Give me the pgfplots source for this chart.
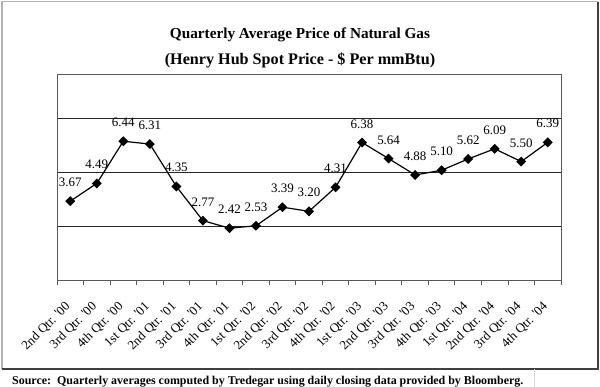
\documentclass[border=0pt]{standalone}
\usepackage{pgfplots}
\pgfplotsset{compat=1.18}
\usepackage{fontspec}
\setmainfont{Liberation Serif}[Ligatures=TeXOff]
\begin{document}
\begin{tikzpicture}
\useasboundingbox (0bp,0bp) rectangle (600bp,-387bp);
\fill[white] (0bp,0bp) rectangle (600bp,-387bp);
\draw[gray!60, line width=1.2bp] (2bp,-369bp) -- (2bp,-1.5bp) -- (598bp,-1.5bp);
\draw[black!75, line width=2bp] (598bp,-1.5bp) -- (598bp,-369bp) -- (2bp,-369bp);
\draw[gray!30, line width=0.8bp] (534bp,-369bp) -- (534bp,-387bp);
\node[font=\bfseries\fontsize{15.3}{18}\selectfont, anchor=base, inner sep=0pt] at (300bp,-38bp) {Quarterly Average Price of Natural Gas};
\node[font=\bfseries\fontsize{16.2}{19}\selectfont, anchor=base, inner sep=0pt] at (300bp,-64.5bp) {(Henry Hub Spot Price - \$ Per mmBtu)};
\node[font=\bfseries\fontsize{12}{14}\selectfont, anchor=base west, inner sep=0pt] at (12bp,-384bp) {Source:\ \ Quarterly averages computed by Tredegar using daily closing data provided by Bloomberg.};
\begin{axis}[
  at={(57bp,-280.5bp)}, anchor=south west,
  scale only axis, width=504bp, height=206.5bp,
  xmin=-0.5, xmax=18.5, ymin=0, ymax=9.55,
  clip=false,
  xtick pos=lower, ytick pos=left,
  xtick={0,...,18},
  xticklabels={2nd Qtr. '00,3rd Qtr. '00,4th Qtr. '00,1st Qtr. '01,2nd Qtr. '01,3rd Qtr. '01,4th Qtr. '01,1st Qtr. '02,2nd Qtr. '02,3rd Qtr. '02,4th Qtr. '02,1st Qtr. '03,2nd Qtr. '03,3rd Qtr. '03,4th Qtr. '03,1st Qtr. '04,2nd Qtr. '04,3rd Qtr. '04,4th Qtr. '04},
  minor xtick={-0.5,0.5,...,18.5},
  ytick={2.5,5,7.5}, yticklabels={},
  ymajorgrids, major grid style={black!85, line width=0.8bp},
  major tick length=0pt, minor tick length=4bp, tick align=outside,
  minor tick style={gray!70!black, line width=0.8bp},
  axis line style={gray!70!black, line width=1bp},
  xticklabel style={font=\fontsize{13}{15}\selectfont, xshift=-2bp, yshift=-24bp, rotate=45, anchor=east, inner sep=0pt},
  /pgf/number format/.cd, fixed, fixed zerofill, precision=2, assume math mode=true, /pgfplots/.cd,
  nodes near coords,
  nodes near coords style={font=\fontsize{13}{15}\selectfont, anchor=base, inner sep=0pt, yshift=14.5bp, text=black},
]
\addplot[black, line width=1.2bp, mark=square*, mark size=2.9bp, mark options={rotate=45, solid, fill=black}] coordinates {
(0,3.67) (1,4.49) (2,6.44) (3,6.31) (4,4.35) (5,2.77) (6,2.42) (7,2.53) (8,3.39) (9,3.20)
(10,4.31) (11,6.38) (12,5.64) (13,4.88) (14,5.10) (15,5.62) (16,6.09) (17,5.50) (18,6.39)
};
\end{axis}
\end{tikzpicture}
\end{document}
